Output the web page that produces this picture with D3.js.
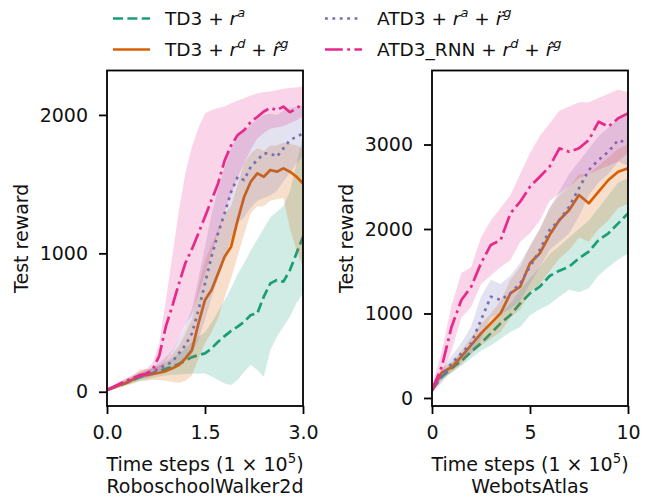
<!DOCTYPE html>
<html>
<head>
<meta charset="utf-8">
<script src="https://cdn.jsdelivr.net/npm/d3@7"></script>
<style>
  body { margin: 0; background: #fff; }
  svg { font-family: "DejaVu Sans", sans-serif; }
</style>
</head>
<body>
<div class="chart"></div>
<script>
// time steps (x 1e5)
const walkerT = [0,0.1,0.2,0.3,0.4,0.5,0.6,0.7,0.8,0.9,1.0,1.1,1.2,1.3,1.4,1.5,1.6,1.7,1.8,1.9,2.0,2.1,2.2,2.3,2.4,2.5,2.6,2.7,2.8,2.9,3.0];
const atlasT = [0,0.5,1,1.5,2,2.5,3,3.5,4,4.5,5,5.5,6,6.5,7,7.5,8,8.5,9,9.5,10];

// RoboschoolWalker2d: mean, lower, upper
const walkerTD3a   = [12,30,48,65,85,105,120,135,150,165,180,200,225,250,265,277,313,361,402,440,470,506,554,566,687,783,807,795,879,1000,1120];
const walkerTD3aLo = [0,18,32,48,62,75,88,100,110,118,122,125,128,132,130,132,110,84,60,48,84,145,193,157,108,301,398,470,542,639,711];
const walkerTD3aHi = [25,45,65,85,108,135,155,170,190,210,240,275,315,360,400,430,500,580,660,750,850,930,1020,1100,1180,1260,1300,1340,1450,1650,1850];

const walkerTD3d   = [12,31,48,65,89,120,120,128,137,149,169,193,241,301,494,663,735,855,976,1048,1240,1409,1517,1578,1553,1602,1590,1614,1590,1553,1505];
const walkerTD3dLo = [0,18,30,45,60,80,80,85,85,80,70,65,80,120,240,350,430,530,680,820,980,1140,1290,1340,1340,1380,1390,1400,1180,1020,900];
const walkerTD3dHi = [25,45,66,88,115,160,165,170,190,220,270,330,420,520,760,950,1060,1180,1290,1340,1500,1650,1720,1760,1740,1780,1780,1800,1790,1780,1760];

const walkerATD3   = [12,33,55,75,95,112,125,145,169,193,217,277,337,422,590,783,976,1144,1289,1445,1553,1529,1626,1674,1722,1722,1698,1758,1818,1842,1866];
const walkerATD3Lo = [0,20,40,60,78,92,102,115,130,145,160,190,220,270,380,520,680,820,960,1100,1220,1260,1330,1380,1400,1420,1450,1520,1580,1650,1700];
const walkerATD3Hi = [25,48,70,92,112,130,148,175,210,250,300,380,470,600,820,1050,1280,1470,1620,1760,1850,1880,1930,1970,2000,2010,2000,2030,2050,2060,2070];

const walkerRNN    = [12,35,58,80,100,118,130,160,260,470,620,780,930,1030,1145,1265,1385,1505,1670,1780,1855,1890,1950,1985,2025,2050,2035,2060,2020,2045,2085];
const walkerRNNLo  = [0,20,40,60,80,95,105,120,150,220,290,380,480,560,700,850,1000,1150,1300,1430,1550,1650,1750,1830,1870,1900,1910,1920,1940,1960,1990];
const walkerRNNHi  = [25,50,75,100,125,145,165,210,350,660,980,1310,1580,1770,1910,2010,2035,2050,2060,2085,2105,2120,2140,2155,2165,2170,2180,2190,2195,2200,2205];

// WebotsAtlas: mean, lower, upper
const atlasTD3a    = [94,252,351,438,548,647,765,883,982,1120,1238,1317,1444,1507,1554,1653,1732,1870,1949,2067,2185];
const atlasTD3aLo  = [70,210,300,380,470,560,620,700,780,840,980,1050,1110,1200,1280,1250,1300,1450,1550,1640,1710];
const atlasTD3aHi  = [120,300,420,520,640,760,900,1000,1120,1280,1420,1550,1700,1800,1900,2000,2100,2250,2400,2550,2600];

const atlasTD3d    = [94,300,363,489,627,765,883,1002,1238,1317,1594,1712,1929,2106,2225,2402,2304,2442,2580,2678,2718];
const atlasTD3dLo  = [60,230,300,400,520,620,700,780,950,1050,1250,1350,1500,1650,1750,1900,1850,2000,2100,2250,2300];
const atlasTD3dHi  = [130,350,420,560,720,880,1000,1150,1400,1550,1800,2000,2250,2400,2500,2650,2650,2750,2850,2950,3000];

const atlasATD3    = [94,252,410,528,647,923,1199,1160,1238,1357,1554,1751,1988,2106,2264,2481,2698,2817,2915,3053,3014];
const atlasATD3Lo  = [60,180,330,430,520,700,950,1000,1050,1150,1350,1550,1750,1850,1950,2150,2400,2550,2650,2800,2750];
const atlasATD3Hi  = [130,330,500,650,850,1200,1400,1350,1450,1600,1800,2000,2250,2450,2650,2800,2950,3100,3200,3300,3350];

const atlasRNN     = [94,371,844,1160,1317,1594,1811,1870,2185,2323,2501,2619,2738,2955,2915,2955,3053,3270,3211,3310,3369];
const atlasRNNLo   = [60,250,560,950,1080,1350,1450,1550,1630,1850,1950,2100,2330,2420,2500,2600,2650,2700,2750,2800,2900];
const atlasRNNHi   = [150,550,1100,1480,1550,1900,2100,2250,2400,2650,2900,3100,3250,3400,3450,3500,3500,3550,3600,3650,3620];

const walkerXTicks = [0, 1.5, 3];
const atlasXTicks = [0, 5, 10];
const walkerYTicks = [0, 1000, 2000];
const atlasYTicks = [0, 1000, 2000, 3000];

// legend labels as [text, italic, superscript]
const seriesLabels = [
  [['TD3 + '], ['r', 1], ['a', 1, 1]],
  [['TD3 + '], ['r', 1], ['d', 1, 1], [' + '], ['r\u0302', 1], ['g', 1, 1]],
  [['ATD3 + '], ['r', 1], ['a', 1, 1], [' + '], ['r\u0308', 1], ['g', 1, 1]],
  [['ATD3_RNN + '], ['r', 1], ['d', 1, 1], [' + '], ['r\u0302', 1], ['g', 1, 1]]
];
const seriesColors = ['#1b9e77', '#d95f02', '#7570b3', '#e7298a'];
const seriesDash = ['10,4.4', null, '2.8,4.6', '17.8,4.4,2.8,4.4'];
const lineW = 2.7;

const width = 649, height = 497;
const svg = d3.select('.chart').append('svg')
  .attr('width', width)
  .attr('height', height);

// write text made of plain/italic/superscript parts
function richText(sel, parts, size) {
  let wasSup = false;
  parts.forEach(p => {
    const ts = sel.append('tspan').text(p[0]);
    if (p[1]) ts.attr('font-style', 'italic');
    if (p[2]) ts.attr('font-size', size * 0.7).attr('dy', -size * 0.42);
    else if (wasSup) ts.attr('dy', size * 0.42);
    wasSup = !!p[2];
  });
}

function panel(o) {
  const x = d3.scaleLinear().domain(o.xDomain).range([o.left, o.right]);
  const y = d3.scaleLinear().domain(o.yDomain).range([o.bottom, o.top]);
  const g = svg.append('g');

  g.append('clipPath').attr('id', o.id)
    .append('rect')
    .attr('x', o.left).attr('y', o.top)
    .attr('width', o.right - o.left).attr('height', o.bottom - o.top);

  const plot = g.append('g').attr('clip-path', `url(#${o.id})`);

  o.series.forEach((s, i) => {
    const rows = o.t.map((t, j) => ({t: t, m: s[0][j], lo: s[1][j], hi: s[2][j]}));
    plot.append('path')
      .datum(rows)
      .attr('d', d3.area().x(d => x(d.t)).y0(d => y(d.lo)).y1(d => y(d.hi)))
      .attr('fill', seriesColors[i])
      .attr('fill-opacity', 0.2);
    plot.append('path')
      .datum(rows)
      .attr('d', d3.line().x(d => x(d.t)).y(d => y(d.m)))
      .attr('fill', 'none')
      .attr('stroke', seriesColors[i])
      .attr('stroke-width', lineW)
      .attr('stroke-linejoin', 'round')
      .attr('stroke-dasharray', seriesDash[i]);
  });

  // axes
  const xa = g.append('g')
    .attr('transform', `translate(0,${o.bottom})`)
    .call(d3.axisBottom(x).tickValues(o.xTicks).tickFormat(o.xFormat).tickSize(8).tickPadding(12));
  const ya = g.append('g')
    .attr('transform', `translate(${o.left},0)`)
    .call(d3.axisLeft(y).tickValues(o.yTicks).tickFormat(d3.format('d')).tickSize(8).tickPadding(11));
  [xa, ya].forEach(a => {
    a.select('.domain').remove();
    a.selectAll('line').attr('stroke', '#000').attr('stroke-width', 1.8);
    a.selectAll('text').attr('font-size', 19).attr('fill', '#111').attr('font-family', '"DejaVu Sans", sans-serif');
  });

  g.append('rect')
    .attr('x', o.left).attr('y', o.top)
    .attr('width', o.right - o.left).attr('height', o.bottom - o.top)
    .attr('fill', 'none').attr('stroke', '#000').attr('stroke-width', 1.8);

  // labels
  g.append('text')
    .attr('transform', `translate(${o.yLabelX},${(o.top + o.bottom) / 2}) rotate(-90)`)
    .attr('text-anchor', 'middle')
    .attr('font-size', 19).attr('fill', '#111')
    .text('Test reward');

  const xl = g.append('text')
    .attr('x', (o.left + o.right) / 2).attr('y', 470.5)
    .attr('text-anchor', 'middle')
    .attr('font-size', 19).attr('fill', '#111');
  richText(xl, [['Time steps (1 \u00d7 10'], ['5', 0, 1], [')']], 19);

  g.append('text')
    .attr('x', (o.left + o.right) / 2).attr('y', 492.5)
    .attr('text-anchor', 'middle')
    .attr('font-size', 19).attr('fill', '#111')
    .text(o.title);
}

panel({
  id: 'clipWalker', title: 'RoboschoolWalker2d',
  left: 107, right: 303, top: 70.5, bottom: 406,
  xDomain: [0, 3], yDomain: [-103, 2321],
  xTicks: walkerXTicks, yTicks: walkerYTicks, xFormat: d3.format('.1f'),
  yLabelX: 27.5, t: walkerT,
  series: [
    [walkerTD3a, walkerTD3aLo, walkerTD3aHi],
    [walkerTD3d, walkerTD3dLo, walkerTD3dHi],
    [walkerATD3, walkerATD3Lo, walkerATD3Hi],
    [walkerRNN, walkerRNNLo, walkerRNNHi]
  ]
});

panel({
  id: 'clipAtlas', title: 'WebotsAtlas',
  left: 432, right: 628, top: 70.5, bottom: 406,
  xDomain: [0, 10], yDomain: [-95, 3876],
  xTicks: atlasXTicks, yTicks: atlasYTicks, xFormat: d3.format('d'),
  yLabelX: 353, t: atlasT,
  series: [
    [atlasTD3a, atlasTD3aLo, atlasTD3aHi],
    [atlasTD3d, atlasTD3dLo, atlasTD3dHi],
    [atlasATD3, atlasATD3Lo, atlasATD3Hi],
    [atlasRNN, atlasRNNLo, atlasRNNHi]
  ]
});

// legend, two columns
const legendPos = [[113, 18.5], [113, 49.5], [325, 18.5], [325, 49.5]];
const legend = svg.append('g');
seriesLabels.forEach((lab, i) => {
  const [lx, ly] = legendPos[i];
  legend.append('line')
    .attr('x1', lx).attr('x2', lx + 37)
    .attr('y1', ly).attr('y2', ly)
    .attr('stroke', seriesColors[i])
    .attr('stroke-width', lineW)
    .attr('stroke-dasharray', seriesDash[i]);
  const t = legend.append('text')
    .attr('x', lx + 52).attr('y', ly + 6.7)
    .attr('font-size', 18.5).attr('fill', '#111');
  richText(t, lab, 18.5);
});
</script>
</body>
</html>
